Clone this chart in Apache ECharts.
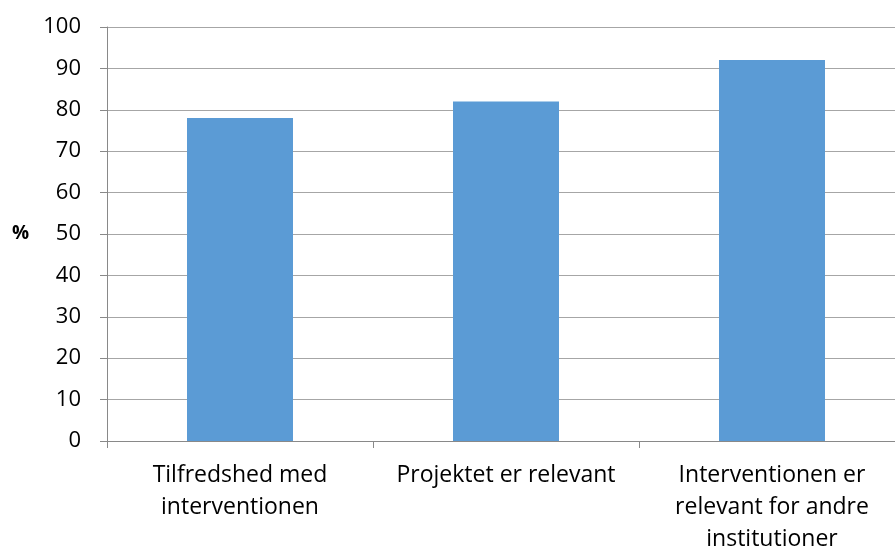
<!DOCTYPE html>
<html><head><meta charset="utf-8">
<script src="https://cdn.jsdelivr.net/npm/echarts@6/dist/echarts.min.js"></script>
<style>html,body{margin:0;padding:0;background:#fff}#c{width:895px;height:550px}</style>
</head><body><div id="c"></div>
<script>
var categories = ["Tilfredshed med\ninterventionen", "Projektet er relevant", "Interventionen er\nrelevant for andre\ninstitutioner"];
var values = [78, 82, 92];
var yTicks = {min: 0, max: 100, interval: 10};

// category slots on a continuous x scale: slot i spans [i, i+1]
var visibleSlots = 788 / 266; // the last category slot runs slightly past the right edge
var slotEdges = categories.map(function (c, i) { return i; });
var slotCenters = categories.map(function (c, i) { return i + 0.5; });
var barData = values.map(function (v, i) { return [slotCenters[i], v]; });

var chart = echarts.init(document.getElementById('c'));
chart.setOption({
  animation: false,
  grid: {left: 107, top: 27, right: 0, bottom: 109, containLabel: false, outerBoundsMode: 'none'},
  xAxis: {
    type: 'value', min: 0, max: visibleSlots,
    splitLine: {show: false},
    axisLine: {show: true, lineStyle: {color: '#898989', width: 1}},
    axisTick: {show: true, length: 7, customValues: slotEdges, lineStyle: {color: '#898989'}},
    axisLabel: {
      color: '#000', fontFamily: 'Open Sans', fontSize: 23, lineHeight: 32, margin: 18,
      customValues: slotCenters,
      formatter: function (v) { return categories[Math.floor(v)] || ''; }
    }
  },
  yAxis: {
    type: 'value', min: yTicks.min, max: yTicks.max, interval: yTicks.interval,
    name: '%', nameLocation: 'middle', nameRotate: 0, nameGap: 78,
    nameTextStyle: {color: '#000', fontFamily: 'Open Sans', fontSize: 19, fontWeight: 'bold'},
    axisLine: {show: true, lineStyle: {color: '#898989', width: 1}},
    axisTick: {show: true, length: 7, lineStyle: {color: '#898989'}},
    axisLabel: {color: '#000', fontFamily: 'Open Sans', fontSize: 22, margin: 26},
    splitLine: {lineStyle: {color: '#A6A6A6', width: 1}}
  },
  series: [{
    type: 'bar', data: barData, barWidth: 106,
    itemStyle: {color: '#5B9BD5'}
  }]
});
</script></body></html>
